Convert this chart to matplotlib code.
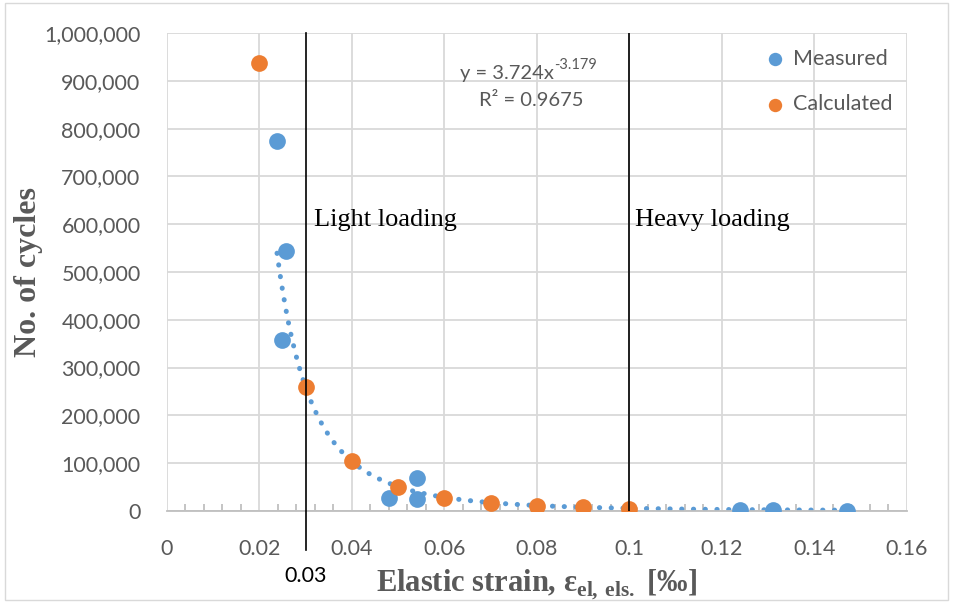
import numpy as np
import matplotlib.pyplot as plt
from matplotlib.patches import Rectangle
from matplotlib.ticker import FuncFormatter, MultipleLocator

# Data
measured_x = [0.0238, 0.0257, 0.0249, 0.048, 0.054, 0.054, 0.124, 0.131, 0.147]
measured_y = [774000, 544000, 358000, 27000, 25000, 70000, 3000, 2000, 1000]
calculated_x = [0.02, 0.03, 0.04, 0.05, 0.06, 0.07, 0.08, 0.09, 0.1]
calculated_y = [938000, 259000, 104000, 51000, 28000, 17000, 11000, 8000, 5000]

# Power trendline shown on the chart: y = 3.724 x^-3.179
trend_a = 3.724
trend_b = -3.179

boundaries = [0.03, 0.1]
zone_labels = ["Light loading", "Heavy loading"]

blue = "#5B9BD5"
orange = "#ED7D31"
grid_c = "#D9D9D9"
text_c = "#595959"
sans = ["Lato", "DejaVu Sans"]
serif = ["Liberation Serif", "DejaVu Serif"]

fig = plt.figure(figsize=(9.54, 6.06), dpi=100)
ax = fig.add_axes([0.175, 0.1568, 0.7757, 0.7887])

# chart area border
fig.patches.append(Rectangle((5 / 954, 1 - 600 / 606), 943 / 954, 597 / 606,
                             transform=fig.transFigure, fill=False,
                             edgecolor="#D9D9D9", linewidth=1))

ax.set_xlim(0, 0.16)
ax.set_ylim(0, 1000000)
ax.xaxis.set_major_locator(MultipleLocator(0.02))
ax.xaxis.set_minor_locator(MultipleLocator(0.004))
ax.yaxis.set_major_locator(MultipleLocator(100000))
ax.grid(True, color=grid_c, linewidth=1.3, zorder=0)
ax.set_axisbelow(True)
for s in ["top", "right", "left"]:
    ax.spines[s].set_visible(False)
ax.spines["bottom"].set_color("#BFBFBF")
ax.spines["bottom"].set_linewidth(1.3)

ax.yaxis.set_major_formatter(FuncFormatter(lambda v, p: f"{int(v):,}"))
ax.xaxis.set_major_formatter(FuncFormatter(lambda v, p: "0" if v == 0 else f"{v:g}"))
ax.tick_params(axis="both", which="major", length=0, labelsize=15.5, colors=text_c)
ax.tick_params(axis="y", which="major", pad=19)
ax.tick_params(axis="x", which="major", pad=20)
ax.tick_params(axis="x", which="minor", direction="in", length=5, color="#BFBFBF", width=1.3)
for lab in ax.get_xticklabels() + ax.get_yticklabels():
    lab.set_family(sans)

# trendline
tx = np.linspace(min(measured_x), max(measured_x), 400)
ax.plot(tx, trend_a * tx ** trend_b, linestyle=(0, (0.05, 2.3)), color=blue,
        linewidth=3.6, dash_capstyle="round", zorder=2)

ax.scatter(measured_x, measured_y, s=145, color=blue, zorder=3, label="Measured", linewidths=0)
ax.scatter(calculated_x, calculated_y, s=145, color=orange, zorder=3, label="Calculated", linewidths=0)

# load zone boundaries
ax.axvline(boundaries[0], ymin=-0.082, ymax=1, color="black", linewidth=1.2, clip_on=False, zorder=4)
ax.axvline(boundaries[1], color="black", linewidth=1.2, zorder=4)
ax.text(boundaries[0], -0.135, "0.03", transform=ax.get_xaxis_transform(),
        ha="center", va="center", fontsize=15.5, family=sans, color="black")
ax.text(boundaries[0] + 0.0018, 608000, zone_labels[0], fontsize=19, family=serif, va="center")
ax.text(boundaries[1] + 0.0013, 608000, zone_labels[1], fontsize=19, family=serif, va="center")

eq = ax.text(0.0736, 915000, "y = 3.724x", fontsize=14.5, family=sans, color=text_c,
             ha="center", va="center")
ax.annotate("-3.179", xy=(1, 0.62), xycoords=eq, fontsize=10.5, family=sans,
            color=text_c, ha="left", va="bottom")
ax.text(0.0788, 858000, "R² = 0.9675", fontsize=14.5, family=sans, color=text_c,
        ha="center", va="center")

leg = ax.legend(loc="upper right", bbox_to_anchor=(1.006, 1.008), frameon=False,
                handletextpad=-0.2, labelspacing=1.2, markerscale=0.8,
                prop={"family": sans, "size": 15.5})
for t in leg.get_texts():
    t.set_color(text_c)

ax.set_ylabel("No. of cycles", fontsize=23, fontweight="bold", family=serif, color=text_c)
ax.yaxis.set_label_coords(-0.168, 0.5)
ax.set_xlabel(r"Elastic strain, ε$_{\mathregular{el,}\,\mathregular{els.}}$ [‰]", fontsize=22,
              fontweight="bold", family=serif, color=text_c, labelpad=6)

fig.savefig("out.png", dpi=100)
